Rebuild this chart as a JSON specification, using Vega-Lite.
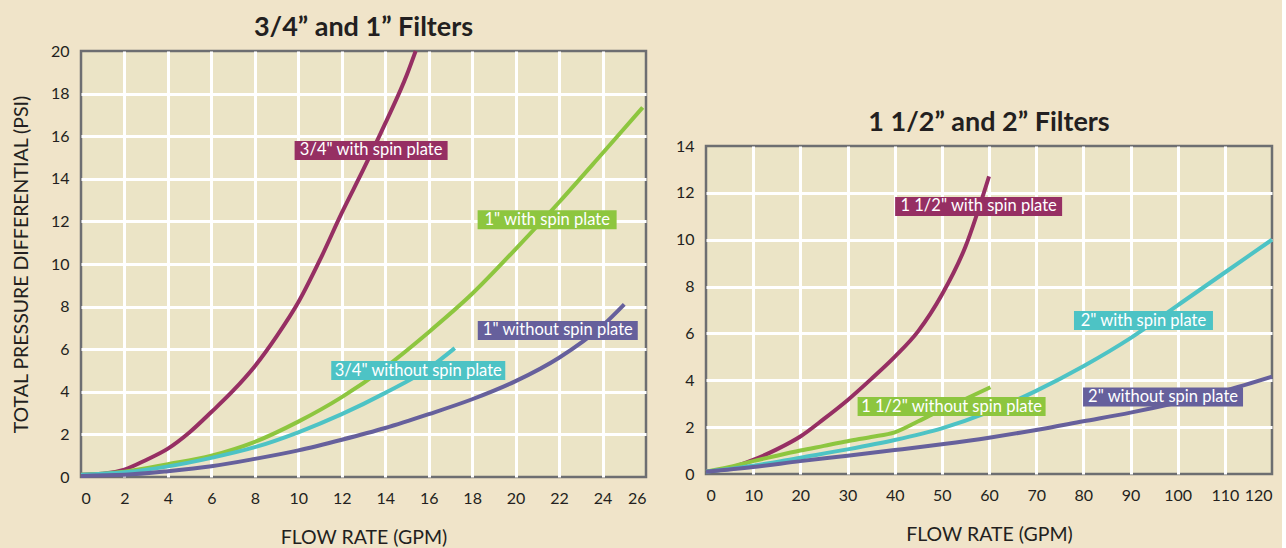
{
  "$schema": "https://vega.github.io/schema/vega-lite/v6.json",
  "background": "#f0e4c9",
  "padding": {"left": 10, "top": 12, "right": 0, "bottom": 0},
  "config": {
    "font": "Lato",
    "view": {"fill": "#ebe4c6", "stroke": "#6d6e71", "strokeWidth": 2.5},
    "axis": {"domain": false, "ticks": false, "grid": true, "gridWidth": 3, "gridOpacity": 1, "labelFont": "Lato", "labelFontSize": 16, "labelColor": "#231f20", "titleFont": "Lato", "titleFontSize": 19.5, "titleFontWeight": "normal", "titleColor": "#231f20"},
    "axisX": {"labelPadding": 13, "titlePadding": 22},
    "axisY": {"labelPadding": 12, "titlePadding": 19, "titleFontSize": 19.5},
    "title": {"font": "Lato", "fontSize": 27, "fontWeight": "bold", "color": "#231f20", "offset": 1, "anchor": "middle", "frame": "group"},
    "concat": {"spacing": 22}
  },
  "datasets": {
    "curves": [
      {"panel": "small", "series": "3/4 with", "flow": 0, "psi": 0.1},
      {"panel": "small", "series": "3/4 with", "flow": 1, "psi": 0.15},
      {"panel": "small", "series": "3/4 with", "flow": 2, "psi": 0.35},
      {"panel": "small", "series": "3/4 with", "flow": 3, "psi": 0.8},
      {"panel": "small", "series": "3/4 with", "flow": 4, "psi": 1.33},
      {"panel": "small", "series": "3/4 with", "flow": 5, "psi": 2.1},
      {"panel": "small", "series": "3/4 with", "flow": 6, "psi": 3.05},
      {"panel": "small", "series": "3/4 with", "flow": 7, "psi": 4.05},
      {"panel": "small", "series": "3/4 with", "flow": 8, "psi": 5.2},
      {"panel": "small", "series": "3/4 with", "flow": 9, "psi": 6.6},
      {"panel": "small", "series": "3/4 with", "flow": 10, "psi": 8.2},
      {"panel": "small", "series": "3/4 with", "flow": 11, "psi": 10.2},
      {"panel": "small", "series": "3/4 with", "flow": 12, "psi": 12.4},
      {"panel": "small", "series": "3/4 with", "flow": 13, "psi": 14.45},
      {"panel": "small", "series": "3/4 with", "flow": 14, "psi": 16.6},
      {"panel": "small", "series": "3/4 with", "flow": 15, "psi": 18.9},
      {"panel": "small", "series": "3/4 with", "flow": 15.4, "psi": 20},
      {"panel": "small", "series": "1 with", "flow": 0, "psi": 0.1},
      {"panel": "small", "series": "1 with", "flow": 2, "psi": 0.25},
      {"panel": "small", "series": "1 with", "flow": 4, "psi": 0.6},
      {"panel": "small", "series": "1 with", "flow": 6, "psi": 1.0},
      {"panel": "small", "series": "1 with", "flow": 8, "psi": 1.65},
      {"panel": "small", "series": "1 with", "flow": 10, "psi": 2.6},
      {"panel": "small", "series": "1 with", "flow": 12, "psi": 3.75},
      {"panel": "small", "series": "1 with", "flow": 14, "psi": 5.15},
      {"panel": "small", "series": "1 with", "flow": 16, "psi": 6.8},
      {"panel": "small", "series": "1 with", "flow": 18, "psi": 8.6},
      {"panel": "small", "series": "1 with", "flow": 20, "psi": 10.7},
      {"panel": "small", "series": "1 with", "flow": 22, "psi": 12.9},
      {"panel": "small", "series": "1 with", "flow": 24, "psi": 15.2},
      {"panel": "small", "series": "1 with", "flow": 25.85, "psi": 17.35},
      {"panel": "small", "series": "3/4 without", "flow": 0, "psi": 0.1},
      {"panel": "small", "series": "3/4 without", "flow": 2, "psi": 0.22},
      {"panel": "small", "series": "3/4 without", "flow": 4, "psi": 0.5},
      {"panel": "small", "series": "3/4 without", "flow": 6, "psi": 0.9},
      {"panel": "small", "series": "3/4 without", "flow": 8, "psi": 1.4},
      {"panel": "small", "series": "3/4 without", "flow": 10, "psi": 2.1},
      {"panel": "small", "series": "3/4 without", "flow": 12, "psi": 2.95},
      {"panel": "small", "series": "3/4 without", "flow": 14, "psi": 3.95},
      {"panel": "small", "series": "3/4 without", "flow": 16, "psi": 5.1},
      {"panel": "small", "series": "3/4 without", "flow": 17.2, "psi": 6.05},
      {"panel": "small", "series": "1 without", "flow": 0, "psi": 0.05},
      {"panel": "small", "series": "1 without", "flow": 2, "psi": 0.1},
      {"panel": "small", "series": "1 without", "flow": 4, "psi": 0.27},
      {"panel": "small", "series": "1 without", "flow": 6, "psi": 0.5},
      {"panel": "small", "series": "1 without", "flow": 8, "psi": 0.85},
      {"panel": "small", "series": "1 without", "flow": 10, "psi": 1.25},
      {"panel": "small", "series": "1 without", "flow": 12, "psi": 1.75},
      {"panel": "small", "series": "1 without", "flow": 14, "psi": 2.3},
      {"panel": "small", "series": "1 without", "flow": 16, "psi": 2.95},
      {"panel": "small", "series": "1 without", "flow": 18, "psi": 3.65},
      {"panel": "small", "series": "1 without", "flow": 20, "psi": 4.5},
      {"panel": "small", "series": "1 without", "flow": 22, "psi": 5.6},
      {"panel": "small", "series": "1 without", "flow": 24, "psi": 7.1},
      {"panel": "small", "series": "1 without", "flow": 25, "psi": 8.1},
      {"panel": "large", "series": "1.5 with", "flow": 0, "psi": 0.1},
      {"panel": "large", "series": "1.5 with", "flow": 5, "psi": 0.25},
      {"panel": "large", "series": "1.5 with", "flow": 10, "psi": 0.6},
      {"panel": "large", "series": "1.5 with", "flow": 15, "psi": 1.05},
      {"panel": "large", "series": "1.5 with", "flow": 20, "psi": 1.6},
      {"panel": "large", "series": "1.5 with", "flow": 25, "psi": 2.35},
      {"panel": "large", "series": "1.5 with", "flow": 30, "psi": 3.15},
      {"panel": "large", "series": "1.5 with", "flow": 35, "psi": 4.05},
      {"panel": "large", "series": "1.5 with", "flow": 40, "psi": 5.0},
      {"panel": "large", "series": "1.5 with", "flow": 45, "psi": 6.1},
      {"panel": "large", "series": "1.5 with", "flow": 50, "psi": 7.65},
      {"panel": "large", "series": "1.5 with", "flow": 55, "psi": 9.7},
      {"panel": "large", "series": "1.5 with", "flow": 60, "psi": 12.7},
      {"panel": "large", "series": "1.5 without", "flow": 0, "psi": 0.1},
      {"panel": "large", "series": "1.5 without", "flow": 5, "psi": 0.3},
      {"panel": "large", "series": "1.5 without", "flow": 10, "psi": 0.55},
      {"panel": "large", "series": "1.5 without", "flow": 15, "psi": 0.78},
      {"panel": "large", "series": "1.5 without", "flow": 20, "psi": 1.0},
      {"panel": "large", "series": "1.5 without", "flow": 25, "psi": 1.2},
      {"panel": "large", "series": "1.5 without", "flow": 30, "psi": 1.4},
      {"panel": "large", "series": "1.5 without", "flow": 35, "psi": 1.58},
      {"panel": "large", "series": "1.5 without", "flow": 40, "psi": 1.78},
      {"panel": "large", "series": "1.5 without", "flow": 45, "psi": 2.25},
      {"panel": "large", "series": "1.5 without", "flow": 50, "psi": 2.75},
      {"panel": "large", "series": "1.5 without", "flow": 55, "psi": 3.2},
      {"panel": "large", "series": "1.5 without", "flow": 60.3, "psi": 3.7},
      {"panel": "large", "series": "2 with", "flow": 0, "psi": 0.1},
      {"panel": "large", "series": "2 with", "flow": 10, "psi": 0.35},
      {"panel": "large", "series": "2 with", "flow": 20, "psi": 0.7},
      {"panel": "large", "series": "2 with", "flow": 30, "psi": 1.05},
      {"panel": "large", "series": "2 with", "flow": 40, "psi": 1.45},
      {"panel": "large", "series": "2 with", "flow": 50, "psi": 1.95},
      {"panel": "large", "series": "2 with", "flow": 60, "psi": 2.65},
      {"panel": "large", "series": "2 with", "flow": 70, "psi": 3.55},
      {"panel": "large", "series": "2 with", "flow": 80, "psi": 4.6},
      {"panel": "large", "series": "2 with", "flow": 90, "psi": 5.8},
      {"panel": "large", "series": "2 with", "flow": 100, "psi": 7.2},
      {"panel": "large", "series": "2 with", "flow": 110, "psi": 8.6},
      {"panel": "large", "series": "2 with", "flow": 120, "psi": 10.0},
      {"panel": "large", "series": "2 without", "flow": 0, "psi": 0.1},
      {"panel": "large", "series": "2 without", "flow": 10, "psi": 0.3},
      {"panel": "large", "series": "2 without", "flow": 20, "psi": 0.55},
      {"panel": "large", "series": "2 without", "flow": 30, "psi": 0.78},
      {"panel": "large", "series": "2 without", "flow": 40, "psi": 1.02},
      {"panel": "large", "series": "2 without", "flow": 50, "psi": 1.27},
      {"panel": "large", "series": "2 without", "flow": 60, "psi": 1.55},
      {"panel": "large", "series": "2 without", "flow": 70, "psi": 1.88},
      {"panel": "large", "series": "2 without", "flow": 80, "psi": 2.25},
      {"panel": "large", "series": "2 without", "flow": 90, "psi": 2.62},
      {"panel": "large", "series": "2 without", "flow": 100, "psi": 3.05},
      {"panel": "large", "series": "2 without", "flow": 110, "psi": 3.55},
      {"panel": "large", "series": "2 without", "flow": 120, "psi": 4.15}
    ],
    "labels": [
      {"panel": "small", "series": "3/4 with", "flow": 13.35, "psi": 15.33, "text": "3/4\" with spin plate"},
      {"panel": "small", "series": "1 with", "flow": 21.45, "psi": 12.08, "text": "1\" with spin plate"},
      {"panel": "small", "series": "1 without", "flow": 21.94, "psi": 6.88, "text": "1\" without spin plate"},
      {"panel": "small", "series": "3/4 without", "flow": 15.52, "psi": 5.0, "text": "3/4\" without spin plate"},
      {"panel": "large", "series": "1.5 with", "flow": 57.8, "psi": 11.42, "text": "1 1/2\" with spin plate"},
      {"panel": "large", "series": "2 with", "flow": 92.75, "psi": 6.55, "text": "2\" with spin plate"},
      {"panel": "large", "series": "1.5 without", "flow": 52.07, "psi": 2.88, "text": "1 1/2\" without spin plate"},
      {"panel": "large", "series": "2 without", "flow": 96.9, "psi": 3.29, "text": "2\" without spin plate"}
    ]
  },
  "hconcat": [
    {
      "title": {"text": "3/4\u201d and 1\u201d Filters"},
      "width": 565,
      "height": 426,
      "resolve": {"axis": {"x": "independent", "y": "independent"}},
      "layer": [
        {
          "data": {"name": "curves"},
          "transform": [{"filter": "datum.panel === 'small'"}],
          "mark": {"type": "line", "interpolate": "monotone", "strokeWidth": 4, "strokeCap": "butt"},
          "encoding": {
            "x": {"field": "flow", "type": "quantitative", "scale": {"domain": [0, 26], "nice": false, "zero": false},
                  "axis": {"values": [0, 2, 4, 6, 8, 10, 12, 14, 16, 18, 20, 22, 24, 26], "title": "FLOW RATE (GPM)",
                           "gridColor": {"condition": {"test": "datum.value === 0 || datum.value === 26", "value": "transparent"}, "value": "#ffffff"}}},
            "y": {"field": "psi", "type": "quantitative", "scale": {"domain": [0, 20], "nice": false, "zero": false},
                  "axis": {"values": [0, 2, 4, 6, 8, 10, 12, 14, 16, 18, 20], "title": "TOTAL PRESSURE DIFFERENTIAL (PSI)",
                           "gridColor": {"condition": {"test": "datum.value === 0 || datum.value === 20", "value": "transparent"}, "value": "#ffffff"}}},
            "color": {"field": "series", "type": "nominal", "legend": null,
                      "scale": {"domain": ["3/4 with", "1 with", "3/4 without", "1 without", "1.5 with", "1.5 without", "2 with", "2 without"],
                                "range": ["#962f63", "#8dc63f", "#4dc3c5", "#66609c", "#962f63", "#8dc63f", "#4dc3c5", "#66609c"]}}
          }
        },
        {
          "data": {"name": "labels"},
          "transform": [
            {"filter": "datum.panel === 'small'"},
            {"calculate": "(length(datum.text) * 7 + 13) / 2 / 21.73", "as": "hw"},
            {"calculate": "datum.flow - datum.hw", "as": "bx1"},
            {"calculate": "datum.flow + datum.hw", "as": "bx2"},
            {"calculate": "datum.psi - 0.446", "as": "by1"},
            {"calculate": "datum.psi + 0.446", "as": "by2"}
          ],
          "mark": {"type": "rect"},
          "encoding": {
            "x": {"field": "bx1", "type": "quantitative", "axis": null},
            "x2": {"field": "bx2"},
            "y": {"field": "by1", "type": "quantitative", "axis": null},
            "y2": {"field": "by2"},
            "color": {"field": "series", "type": "nominal", "legend": null}
          }
        },
        {
          "data": {"name": "labels"},
          "transform": [{"filter": "datum.panel === 'small'"}],
          "mark": {"type": "text", "fill": "#ffffff", "fontSize": 16.5, "font": "Lato", "align": "center", "baseline": "middle"},
          "encoding": {
            "x": {"field": "flow", "type": "quantitative", "axis": null},
            "y": {"field": "psi", "type": "quantitative", "axis": null},
            "text": {"field": "text"}
          }
        }
      ]
    },
    {
      "spacing": 20,
      "vconcat": [
        {
          "width": 566,
          "height": 36,
          "data": {"values": []},
          "mark": "point",
          "view": {"stroke": null, "fill": null}
        },
        {
          "title": {"text": "1 1/2\u201d and 2\u201d Filters"},
          "width": 566,
          "height": 328,
          "resolve": {"axis": {"x": "independent", "y": "independent"}},
          "layer": [
            {
              "data": {"name": "curves"},
              "transform": [{"filter": "datum.panel === 'large'"}],
              "mark": {"type": "line", "interpolate": "monotone", "strokeWidth": 4, "strokeCap": "butt"},
              "encoding": {
                "x": {"field": "flow", "type": "quantitative", "scale": {"domain": [0, 120], "nice": false, "zero": false},
                      "axis": {"values": [0, 10, 20, 30, 40, 50, 60, 70, 80, 90, 100, 110, 120], "title": "FLOW RATE (GPM)",
                               "gridColor": {"condition": {"test": "datum.value === 0 || datum.value === 120", "value": "transparent"}, "value": "#ffffff"}}},
                "y": {"field": "psi", "type": "quantitative", "scale": {"domain": [0, 14], "nice": false, "zero": false},
                      "axis": {"values": [0, 2, 4, 6, 8, 10, 12, 14], "title": null,
                               "gridColor": {"condition": {"test": "datum.value === 0 || datum.value === 14", "value": "transparent"}, "value": "#ffffff"}}},
                "color": {"field": "series", "type": "nominal", "legend": null,
                          "scale": {"domain": ["3/4 with", "1 with", "3/4 without", "1 without", "1.5 with", "1.5 without", "2 with", "2 without"],
                                    "range": ["#962f63", "#8dc63f", "#4dc3c5", "#66609c", "#962f63", "#8dc63f", "#4dc3c5", "#66609c"]}}
              }
            },
            {
              "data": {"name": "labels"},
              "transform": [
                {"filter": "datum.panel === 'large'"},
                {"calculate": "(length(datum.text) * 7 + 13) / 2 / 4.717", "as": "hw"},
                {"calculate": "datum.flow - datum.hw", "as": "bx1"},
                {"calculate": "datum.flow + datum.hw", "as": "bx2"},
                {"calculate": "datum.psi - 0.405", "as": "by1"},
                {"calculate": "datum.psi + 0.405", "as": "by2"}
              ],
              "mark": {"type": "rect"},
              "encoding": {
                "x": {"field": "bx1", "type": "quantitative", "axis": null},
                "x2": {"field": "bx2"},
                "y": {"field": "by1", "type": "quantitative", "axis": null},
                "y2": {"field": "by2"},
                "color": {"field": "series", "type": "nominal", "legend": null}
              }
            },
            {
              "data": {"name": "labels"},
              "transform": [{"filter": "datum.panel === 'large'"}],
              "mark": {"type": "text", "fill": "#ffffff", "fontSize": 16.5, "font": "Lato", "align": "center", "baseline": "middle"},
              "encoding": {
                "x": {"field": "flow", "type": "quantitative", "axis": null},
                "y": {"field": "psi", "type": "quantitative", "axis": null},
                "text": {"field": "text"}
              }
            }
          ]
        }
      ]
    }
  ]
}
